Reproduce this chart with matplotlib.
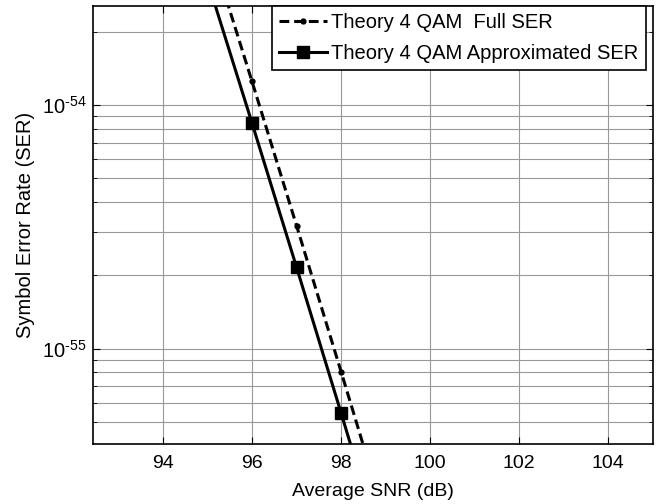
import numpy as np
import matplotlib
matplotlib.use('Agg')
import matplotlib.pyplot as plt
from matplotlib.ticker import FixedLocator, NullFormatter, FuncFormatter

plt.rcParams['font.family'] = ['Liberation Sans', 'DejaVu Sans']
plt.rcParams['mathtext.fontset'] = 'custom'
plt.rcParams['mathtext.rm'] = 'Liberation Sans'

# SNR points (dB) and SER values
snr_db = [95, 96, 97, 98, 99]
ser_full = [4.8e-54, 1.25e-54, 3.2e-55, 8.05e-56, 2.0e-56]
ser_approx = [3.24e-54, 8.44e-55, 2.16e-55, 5.45e-56, 1.35e-56]
x_ticks = [94, 96, 98, 100, 102, 104]
y_major = [1e-55, 1e-54]
y_minor = [m * 1e-56 for m in range(5, 10)] + [m * 1e-55 for m in range(2, 10)] + [2e-54]

fig = plt.figure(figsize=(6.6, 5.04), dpi=100)
ax = fig.add_axes([0.141, 0.119, 0.848, 0.869])

ax.semilogy(snr_db, ser_full, 'k--', marker='o', markersize=3.5, linewidth=2.2,
            dashes=(3.2, 1.6), label='Theory 4 QAM  Full SER')
ax.semilogy(snr_db, ser_approx, 'k-', marker='s', markersize=8.5, linewidth=2.2,
            label='Theory 4 QAM Approximated SER')

ax.set_xlim(92.43, 105.0)
ax.set_ylim(4.06e-56, 2.55e-54)
ax.xaxis.set_major_locator(FixedLocator(x_ticks))
ax.yaxis.set_major_locator(FixedLocator(y_major))
ax.yaxis.set_minor_locator(FixedLocator(y_minor))
ax.yaxis.set_minor_formatter(NullFormatter())


def pow_label(v, pos):
    e = int(round(np.log10(v)))
    return r'$10^{\text{%d}}$' % e


ax.yaxis.set_major_formatter(FuncFormatter(pow_label))

ax.grid(True, which='major', axis='x', color='#999999', linewidth=0.8)
ax.grid(True, which='both', axis='y', color='#999999', linewidth=0.8)
ax.set_axisbelow(True)

ax.tick_params(which='both', direction='in', top=True, right=True)
ax.tick_params(axis='x', labelsize=14, pad=8)
ax.tick_params(axis='y', labelsize=14.5, pad=5)
ax.tick_params(which='major', length=5)
ax.tick_params(which='minor', length=3)
for s in ax.spines.values():
    s.set_linewidth(1.2)

ax.set_xlabel('Average SNR (dB)', fontsize=14, labelpad=8)
ax.set_ylabel('Symbol Error Rate (SER)', fontsize=14.5)
ax.yaxis.set_label_coords(-0.103, 0.5)

leg = ax.legend(loc='upper right', bbox_to_anchor=(0.9875, 1.0), borderaxespad=0,
                fontsize=14.5, handlelength=2.4, handletextpad=0.2, borderpad=0.35,
                labelspacing=0.6, fancybox=False, framealpha=1, edgecolor='black')
leg.get_frame().set_linewidth(1.2)

fig.savefig('out.png', dpi=100)
